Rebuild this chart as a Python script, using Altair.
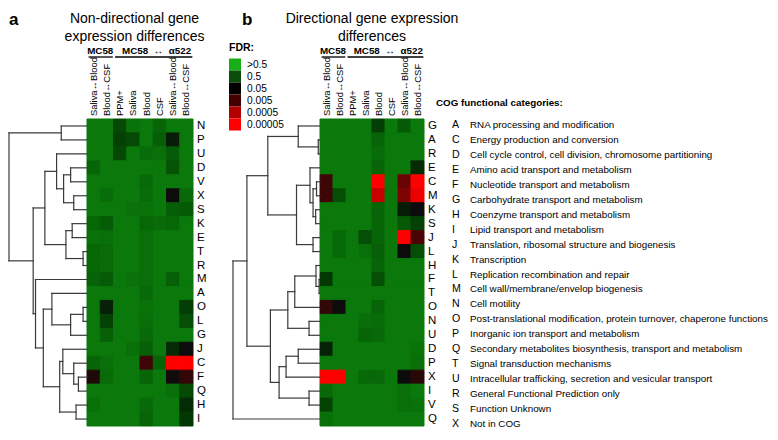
import altair as alt
import pandas as pd

# ---------------- data ----------------
columns = ["Saliva↔Blood", "Blood↔CSF", "PPM+", "Saliva", "Blood", "CSF", "Saliva↔Blood", "Blood↔CSF"]
groups = ["MC58", "MC58\u00a0\u00a0↔\u00a0\u00a0α522"]
group_first = [0, 2]
group_last = [1, 7]

# significance score per cell (0 = FDR > 0.5 ... 7 = FDR <= 0.00005)
rows_a = ["N", "P", "U", "D", "V", "X", "S", "K", "E", "T", "R", "M", "A", "O", "L", "G", "J", "C", "F", "Q", "H", "I"]
vals_a = [
    [0, 0, 2.2, 0.3, 0, 1.0, 0, 0],      # N
    [0, 0, 2.5, 2.2, 0, 1.3, 3.6, 0],    # P
    [0, 0, 2.2, 0, 0.6, 0.4, 1.4, 0],    # U
    [1.0, 0, 0, 0, 0, 0, 1.8, 0],        # D
    [0, 0, 0, 0, 0.8, 0, 0, 0],          # V
    [0, 0.6, 0, 0, 0.6, 0, 4.0, 0.8],    # X
    [0, 0, 0, 0.3, 0.3, 0, 1.3, 1.5],    # S
    [0.9, 1.4, 0, 0, 0.9, 0.7, 0.9, 0],  # K
    [0.3, 0.5, 0, 0, 0.5, 0, 0, 0],      # E
    [0.9, 0.7, 0, 0, 0.5, 0, 0, 0],      # T
    [0.9, 0.7, 0, 0, 0.5, 0, 0, 0],      # R
    [1.1, 1.4, 0, 0.3, 0.5, 0, 1.2, 0],  # M
    [0, 0, 0, 0, 0.8, 0, 0, 0],          # A
    [0, 3.5, 0, 0, 0.3, 0, 0, 2.6],      # O
    [0, 2.5, 0, 0, 0.5, 0, 0, 2.0],      # L
    [0, 1.2, 0, 0, 0.8, 0, 0, 0],        # G
    [0, 0, 0, 0.5, 1.2, 0, 3.2, 4.0],    # J
    [1.0, 0.5, 0, 0, 4.8, 1.0, 7.0, 7.0],  # C
    [4.3, 0.7, 0, 0, 1.0, 0, 4.1, 4.6],  # F
    [0, 0, 0, 0, 0, 0, 0.4, 2.2],        # Q
    [0.5, 0, 0, 0, 0.8, 0, 0, 3.2],      # H
    [0, 0, 0, 0, 1.0, 0, 0, 2.8],        # I
]

rows_b = ["G", "A", "R", "E", "C", "M", "K", "S", "J", "L", "H", "F", "T", "O", "N", "U", "D", "P", "X", "I", "V", "Q"]
vals_b = [
    [0, 0, 0, 0, 2.6, 0, 1.5, 0],        # G
    [0, 0, 0, 0, 1.0, 0, 0, 0],          # A
    [0, 0, 0, 0, 0.6, 0, 0, 0],          # R
    [0, 0, 0, 0, 1.0, 0, 0, 3.2],        # E
    [4.8, 0, 0, 0, 7.0, 0, 5.3, 7.0],    # C
    [4.8, 2.0, 0, 0, 6.3, 0, 5.5, 6.8],  # M
    [0, 0, 0, 0, 1.0, 0, 3.6, 4.0],      # K
    [0, 0, 0, 0, 1.0, 0, 1.5, 2.5],      # S
    [0, 0.8, 0, 2.0, 1.0, 0, 7.0, 5.0],  # J
    [0, 0.8, 0, 0.4, 1.2, 0, 4.0, 2.0],  # L
    [0, 0, 0, 0, 1.0, 0, 0, 0],          # H
    [2.8, 0, 0, 0, 2.0, 0, 0, 0],        # F
    [0, 0, 0, 0, 0, 0, 0, 0],            # T
    [4.6, 4.0, 0, 0, 1.0, 0, 0, 0],      # O
    [0, 0, 0, 0.5, 0.6, 0, 0, 0],        # N
    [0, 0, 0, 1.0, 0.8, 0, 0, 0],        # U
    [3.4, 0, 0, 0, 0, 0, 0, 0.3],        # D
    [0, 0, 0, 0, 0, 0, 0, 0.4],          # P
    [7.0, 7.0, 0, 0.8, 0.8, 0, 4.0, 4.5],  # X
    [0.8, 0, 0, 0, 0, 0, 0.4, 0],        # I
    [2.4, 0, 0, 0, 0, 0, 0.5, 0.3],      # V
    [0.4, 0, 0, 0, 0, 0, 0, 0],          # Q
]

# hierarchical clustering merges: (node, child1, child2, relative height)
merges_a = [
    ("NP", "N", "P", 0.33),
    ("DV", "D", "V", 0.21),
    ("XS", "X", "S", 0.17),
    ("DVXS", "DV", "XS", 0.30),
    ("UDS", "U", "DVXS", 0.39),
    ("KE", "K", "E", 0.19),
    ("TR", "T", "R", 0.05),
    ("KETR", "KE", "TR", 0.27),
    ("UR", "UDS", "KETR", 0.54),
    ("OL", "O", "L", 0.05),
    ("OLG", "OL", "G", 0.21),
    ("AG", "A", "OLG", 0.45),
    ("FQ", "F", "Q", 0.11),
    ("CQ", "C", "FQ", 0.17),
    ("JQ", "J", "CQ", 0.31),
    ("HI", "H", "I", 0.14),
    ("JI", "JQ", "HI", 0.35),
    ("AI", "AG", "JI", 0.56),
    ("MI", "M", "AI", 0.66),
    ("UI", "UR", "MI", 0.69),
    ("root", "NP", "UI", 1.0),
]
merges_b = [
    ("AR", "A", "R", 0.02),
    ("GAR", "G", "AR", 0.25),
    ("CM", "C", "M", 0.04),
    ("KS", "K", "S", 0.05),
    ("CMKS", "CM", "KS", 0.08),
    ("ES", "E", "CMKS", 0.115),
    ("JL", "J", "L", 0.08),
    ("EL", "ES", "JL", 0.27),
    ("GL", "GAR", "EL", 0.60),
    ("FT", "F", "T", 0.01),
    ("HT", "H", "FT", 0.046),
    ("HO", "HT", "O", 0.29),
    ("NU", "N", "U", 0.126),
    ("HU", "HO", "NU", 0.37),
    ("DP", "D", "P", 0.25),
    ("DX", "DP", "X", 0.39),
    ("IV", "I", "V", 0.126),
    ("DV", "DX", "IV", 0.47),
    ("HV", "HU", "DV", 0.57),
    ("GV", "GL", "HV", 0.84),
    ("root", "GV", "Q", 1.0),
]

fdr_labels = [">0.5", "0.5", "0.05", "0.005", "0.0005", "0.00005"]

cog_codes = ["A", "C", "D", "E", "F", "G", "H", "I", "J", "K", "L", "M", "N", "O", "P", "Q", "T", "U", "R", "S", "X"]
cog_desc = [
    "RNA processing and modification",
    "Energy production and conversion",
    "Cell cycle control, cell division, chromosome partitioning",
    "Amino acid transport and metabolism",
    "Nucleotide transport and metabolism",
    "Carbohydrate transport and metabolism",
    "Coenzyme transport and  metabolism",
    "Lipid transport and metabolism",
    "Translation, ribosomal structure and biogenesis",
    "Transcription",
    "Replication recombination and repair",
    "Cell wall/membrane/envelop biogenesis",
    "Cell motility",
    "Post-translational modification, protein turnover, chaperone functions",
    "Inorganic ion transport and metabolism",
    "Secondary metabolites biosynthesis, transport and metabolism",
    "Signal transduction mechanisms",
    "Intracellular trafficking, secretion and vesicular transport",
    "General Functional Prediction only",
    "Function Unknown",
    "Not in COG",
]

# ---------------- styles ----------------
heat_stops = [0, 1, 2, 3, 4, 5, 6, 7]
heat_colors = ["#0a780a", "#076507", "#054e05", "#033303", "#0c0c0c", "#4a0404", "#b00000", "#ff0000"]
fdr_colors = ["#16b016", "#0b4d0b", "#000000", "#420000", "#b00000", "#ff0000"]
FONT = "Liberation Sans, Arial, Helvetica, sans-serif"
LINE = "#3a3a3a"
H = 307


def one(text):
    return pd.DataFrame({"t": [text]})


def label(text, x, y, size, weight="normal", align="left"):
    return alt.Chart(one(text)).mark_text(
        align=align, baseline="alphabetic", fontSize=size, fontWeight=weight, font=FONT, color="black"
    ).encode(x=alt.value(x), y=alt.value(y), text="t:N")


def heat_df(rows, vals):
    recs = []
    for i, r in enumerate(rows):
        for j, v in enumerate(vals[i]):
            recs.append({"row": r, "ri": i, "ri2": i + 1, "ci": j, "ci2": j + 1, "v": v})
    return pd.DataFrame(recs)


def dendro_df(rows, merges, depth):
    pos = {r: (0.0, i + 0.5) for i, r in enumerate(rows)}
    segs = []
    for name, a, b, h in merges:
        ha, ya = pos[a]
        hb, yb = pos[b]
        segs.append({"x": -h * depth, "x2": -h * depth, "y": ya, "y2": yb})
        segs.append({"x": -ha * depth, "x2": -h * depth, "y": ya, "y2": ya})
        segs.append({"x": -hb * depth, "x2": -h * depth, "y": yb, "y2": yb})
        pos[name] = (h, (ya + yb) / 2)
    return pd.DataFrame(segs)


def panel(rows, vals, merges, col_px, dendro_px, width, letter, letter_x, title_lines, title_x, legend=False):
    depth = dendro_px / col_px
    units = width / col_px
    xs = alt.Scale(domain=[-depth, units - depth], nice=False, zero=False)
    ys = alt.Scale(domain=[0, len(rows)], reverse=True, nice=False, zero=False)
    cscale = alt.Scale(domain=heat_stops, range=heat_colors, interpolate="rgb")

    heat = alt.Chart(heat_df(rows, vals)).mark_rect(strokeWidth=1).encode(
        x=alt.X("ci:Q", scale=xs, axis=None), x2="ci2:Q",
        y=alt.Y("ri:Q", scale=ys, axis=None), y2="ri2:Q",
        color=alt.Color("v:Q", scale=cscale, legend=None),
        stroke=alt.Stroke("v:Q", scale=cscale, legend=None),
    )
    dend = alt.Chart(dendro_df(rows, merges, depth)).mark_rule(
        color=LINE, strokeWidth=1.2, strokeCap="square"
    ).encode(
        x=alt.X("x:Q", scale=xs, axis=None), x2="x2:Q",
        y=alt.Y("y:Q", scale=ys, axis=None), y2="y2:Q",
    )
    rdf = pd.DataFrame({"row": rows, "yc": [i + 0.5 for i in range(len(rows))], "xc": [len(columns)] * len(rows)})
    rowlab = alt.Chart(rdf).mark_text(align="left", baseline="middle", dx=4, fontSize=11.5, font=FONT, color="black").encode(
        x=alt.X("xc:Q", scale=xs, axis=None), y=alt.Y("yc:Q", scale=ys, axis=None), text="row:N"
    )
    cdf = pd.DataFrame({"col": columns, "xc": [j + 0.5 for j in range(len(columns))]})
    collab = alt.Chart(cdf).mark_text(angle=270, align="left", baseline="middle", fontSize=9.4, font=FONT, color="black").encode(
        x=alt.X("xc:Q", scale=xs, axis=None), y=alt.value(-3), text="col:N"
    )
    gdf = pd.DataFrame({
        "g": groups,
        "xs": [f + 0.12 for f in group_first],
        "xe": [l + 1 - 0.05 for l in group_last],
        "xm": [(f + l + 1) / 2 + (0.25 if f > 0 else 0) for f, l in zip(group_first, group_last)],
    })
    gtext = alt.Chart(gdf).mark_text(baseline="alphabetic", fontSize=9.8, fontWeight="bold", font=FONT, color="black").encode(
        x=alt.X("xm:Q", scale=xs, axis=None), y=alt.value(-65), text="g:N"
    )
    gline = alt.Chart(gdf).mark_rule(color="black", strokeWidth=1.3).encode(
        x=alt.X("xs:Q", scale=xs, axis=None), x2="xe:Q", y=alt.value(-62)
    )
    layers = [heat, dend, rowlab, collab, gtext, gline,
              label(letter, letter_x, -94, 17, "bold"),
              label(title_lines[0], title_x, -96, 14, align="center"),
              label(title_lines[1], title_x, -78, 14, align="center")]
    if legend:
        leg = alt.Chart(pd.DataFrame({"fdr": fdr_labels})).transform_filter("datum.fdr == 'none'").mark_square().encode(
            x=alt.X("ci:Q", scale=xs, axis=None),
            color=alt.Color("fdr:N", scale=alt.Scale(domain=fdr_labels, range=fdr_colors), legend=alt.Legend(
                title="FDR:", orient="none", legendX=-4, legendY=-76, direction="vertical",
                symbolType="square", symbolSize=144, symbolStrokeWidth=0, symbolOpacity=1,
                rowPadding=0, labelOffset=6, padding=0, titlePadding=5,
                titleFont=FONT, titleFontSize=10.5, titleFontWeight="bold", titleColor="black",
                labelFont=FONT, labelFontSize=10.2, labelColor="black",
            )),
        )
        layers = [leg] + layers
    ch = alt.layer(*layers).properties(width=width, height=H)
    if legend:
        ch = ch.resolve_scale(color="independent", stroke="independent")
    return ch


panel_a = panel(rows_a, vals_a, merges_a, 13.25, 78, 212, "a", 0,
                ["Non-directional gene", "expression differences"], 125.5)
panel_b = panel(rows_b, vals_b, merges_b, 13.0, 87, 191, "b", 9,
                ["Directional gene expression", "differences"], 139, legend=True)

cog = pd.DataFrame({"code": cog_codes, "desc": cog_desc})
cy = alt.Y("code:N", sort=cog_codes, scale=alt.Scale(type="point", padding=0.4), axis=None)
cog_code = alt.Chart(cog).mark_text(align="left", baseline="middle", fontSize=10.6, font=FONT, color="black").encode(
    x=alt.value(16), y=cy, text="code:N")
cog_text = alt.Chart(cog).mark_text(align="left", baseline="middle", fontSize=9.8, font=FONT, color="black").encode(
    x=alt.value(34), y=cy, text="desc:N")
cog_title = alt.Chart(one("COG functional categories:")).mark_text(
    align="left", baseline="middle", fontSize=9.8, fontWeight="bold", font=FONT, color="black"
).encode(x=alt.value(0), y=alt.value(-16), text="t:N")
panel_c = alt.layer(cog_code, cog_text, cog_title).properties(width=330, height=311)

chart = alt.hconcat(panel_a, panel_b, panel_c, spacing=12, bounds="flush").properties(
    padding={"top": 3, "left": 0, "right": 0, "bottom": 0}, background="white"
).configure_view(stroke=None)

chart.save("out.html", embed_options={"renderer": "svg", "actions": False})
